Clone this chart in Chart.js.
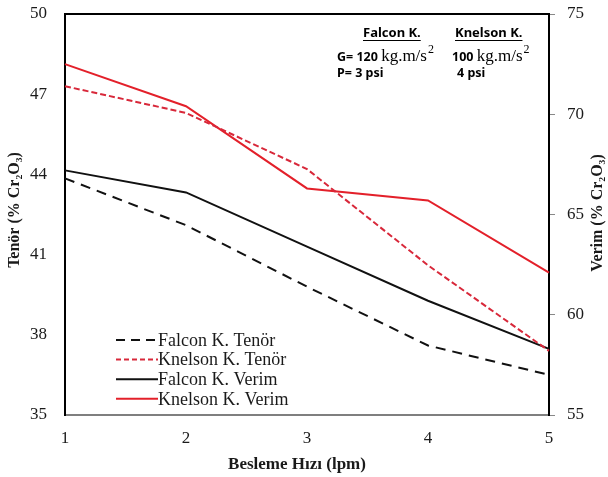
<!DOCTYPE html>
<html>
<head>
<meta charset="utf-8">
<script src="https://cdn.jsdelivr.net/npm/chart.js@4.4.1/dist/chart.umd.min.js"></script>
<style>
html, body { margin: 0; padding: 0; background: #fff; }
</style>
</head>
<body>
<canvas id="chart" width="608" height="477"></canvas>
<script>
// Feed rate (lpm) categories
const feedRates = ['1', '2', '3', '4', '5'];

// Grade (left axis, % Cr2O3)
const falconTenor = [43.85, 42.1, 39.8, 37.6, 36.5];
const knelsonTenor = [47.3, 46.3, 44.2, 40.6, 37.4];

// Recovery (right axis, % Cr2O3)
const falconVerim = [67.2, 66.1, 63.4, 60.7, 58.3];
const knelsonVerim = [72.5, 70.4, 66.3, 65.7, 62.1];

// Axis ranges
const tenorRange = [35, 50, 3];
const verimRange = [55, 75, 5];

const serif = "'Liberation Serif', 'DejaVu Serif', serif";
const sans = "'Noto Sans', 'Liberation Sans', sans-serif";
const textColor = '#1a1a1a';

// Top border of the plot frame + axis titles
const framePlugin = {
    id: 'frame',
    afterDraw(chart) {
        const { ctx, chartArea: a } = chart;
        ctx.save();
        ctx.strokeStyle = '#000';
        ctx.lineWidth = 2;
        ctx.beginPath();
        ctx.moveTo(a.left - 1, a.top);
        ctx.lineTo(a.right + 1, a.top);
        ctx.stroke();

        ctx.fillStyle = textColor;
        ctx.font = 'bold 16px ' + serif;
        ctx.textAlign = 'center';
        ctx.textBaseline = 'middle';

        ctx.save();
        ctx.translate(15, 210);
        ctx.rotate(-Math.PI / 2);
        ctx.fillText('Tenör (% Cr₂O₃)', 0, 0);
        ctx.restore();

        ctx.save();
        ctx.translate(598, 213);
        ctx.rotate(-Math.PI / 2);
        ctx.fillText('Verim (% Cr₂O₃)', 0, 0);
        ctx.restore();

        ctx.font = 'bold 17px ' + serif;
        ctx.fillText('Besleme Hızı (lpm)', 297, 465);
        ctx.restore();
    }
};

// Legend drawn inside the plot, bottom left
const legendPlugin = {
    id: 'insideLegend',
    afterDraw(chart) {
        const { ctx } = chart;
        ctx.save();
        ctx.font = '18px ' + serif;
        ctx.textBaseline = 'middle';
        chart.data.datasets.forEach((ds, i) => {
            const y = 340 + i * 19.6;
            ctx.strokeStyle = ds.borderColor;
            ctx.lineWidth = ds.borderWidth;
            ctx.setLineDash(ds.legendDash || []);
            ctx.beginPath();
            ctx.moveTo(116, y);
            ctx.lineTo(158, y);
            ctx.stroke();
            ctx.setLineDash([]);
            ctx.fillStyle = textColor;
            ctx.fillText(ds.label, 158, y + 1);
        });
        ctx.restore();
    }
};

// Test conditions note, top right
const notePlugin = {
    id: 'note',
    afterDraw(chart) {
        const { ctx } = chart;
        ctx.save();
        ctx.fillStyle = '#000';
        ctx.strokeStyle = '#000';
        ctx.textBaseline = 'alphabetic';

        function header(txt, x) {
            ctx.font = 'bold 13px ' + sans;
            ctx.fillText(txt, x, 37);
            const w = ctx.measureText(txt).width;
            ctx.lineWidth = 1;
            ctx.beginPath();
            ctx.moveTo(x, 40.5);
            ctx.lineTo(x + w, 40.5);
            ctx.stroke();
        }

        function force(prefix, x) {
            ctx.font = 'bold 12.5px ' + sans;
            ctx.fillText(prefix, x, 61);
            x += ctx.measureText(prefix).width;
            ctx.font = '17px ' + serif;
            ctx.fillText('kg.m/s', x, 61);
            x += ctx.measureText('kg.m/s').width;
            ctx.font = '12px ' + serif;
            ctx.fillText('2', x + 1, 53);
        }

        header('Falcon K.', 363);
        header('Knelson K.', 455);
        force('G= 120 ', 337);
        force('100 ', 452);
        ctx.font = 'bold 12.5px ' + sans;
        ctx.fillText('P= 3 psi', 337, 77);
        ctx.fillText('4 psi', 457, 77);
        ctx.restore();
    }
};

// fixed axis sizes so the plot area lands where the original has it
function fixVertical(width) {
    return function (scale) {
        scale.width = width;
        scale.paddingTop = 0;
        scale.paddingBottom = 0;
    };
}

const ctx = document.getElementById('chart').getContext('2d');

new Chart(ctx, {
    type: 'line',
    data: {
        labels: feedRates,
        datasets: [
            {
                label: 'Falcon K. Tenör',
                data: falconTenor,
                yAxisID: 'y',
                borderColor: '#111',
                borderWidth: 2,
                borderDash: [10, 7],
                legendDash: [9, 6],
                pointRadius: 0,
                tension: 0
            },
            {
                label: 'Knelson K. Tenör',
                data: knelsonTenor,
                yAxisID: 'y',
                borderColor: '#d8283a',
                borderWidth: 2,
                borderDash: [6, 3],
                legendDash: [5, 3],
                pointRadius: 0,
                tension: 0
            },
            {
                label: 'Falcon K. Verim',
                data: falconVerim,
                yAxisID: 'y1',
                borderColor: '#111',
                borderWidth: 2,
                pointRadius: 0,
                tension: 0
            },
            {
                label: 'Knelson K. Verim',
                data: knelsonVerim,
                yAxisID: 'y1',
                borderColor: '#e3202a',
                borderWidth: 2,
                pointRadius: 0,
                tension: 0
            }
        ]
    },
    options: {
        responsive: false,
        animation: false,
        layout: { padding: { top: 14, left: 0, right: 0, bottom: 0 } },
        plugins: {
            legend: { display: false },
            tooltip: { enabled: false }
        },
        scales: {
            x: {
                type: 'category',
                offset: false,
                grid: { display: false },
                border: { color: '#7f7f7f', width: 2 },
                ticks: {
                    color: textColor,
                    font: { family: serif, size: 17 },
                    padding: 5,
                    maxRotation: 0
                },
                afterFit(scale) {
                    scale.height = 62;
                    scale.paddingLeft = 0;
                    scale.paddingRight = 0;
                }
            },
            y: {
                position: 'left',
                min: tenorRange[0],
                max: tenorRange[1],
                grid: { display: false },
                border: { color: '#000', width: 2 },
                ticks: {
                    stepSize: tenorRange[2],
                    color: textColor,
                    font: { family: serif, size: 17 },
                    padding: 10
                },
                afterFit: fixVertical(65)
            },
            y1: {
                position: 'right',
                min: verimRange[0],
                max: verimRange[1],
                grid: {
                    display: true,
                    drawOnChartArea: false,
                    drawTicks: true,
                    tickLength: 6,
                    color: '#888'
                },
                border: { color: '#000', width: 2 },
                ticks: {
                    stepSize: verimRange[2],
                    color: textColor,
                    font: { family: serif, size: 17 },
                    padding: 12
                },
                afterFit: fixVertical(59)
            }
        }
    },
    plugins: [framePlugin, legendPlugin, notePlugin]
});
</script>
</body>
</html>
